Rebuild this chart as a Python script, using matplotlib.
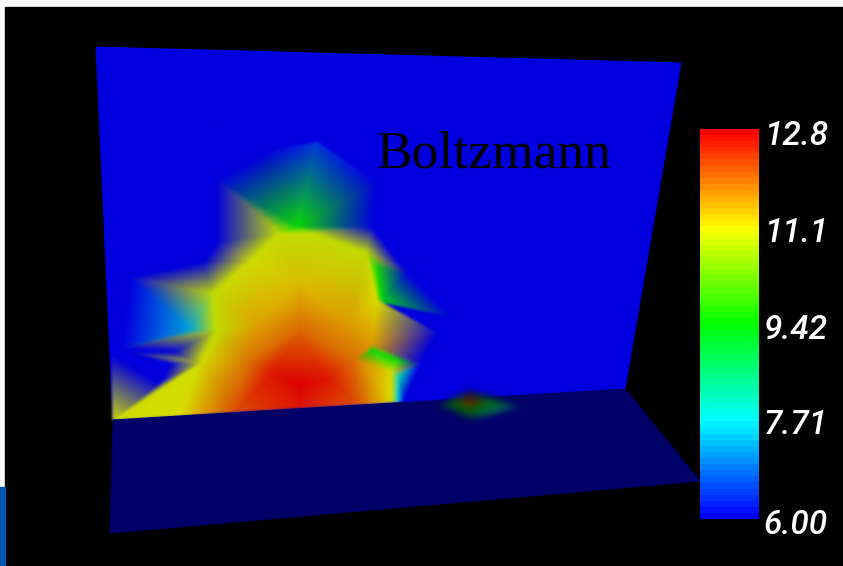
import numpy as np
import matplotlib
matplotlib.use("Agg")
import matplotlib.pyplot as plt
from matplotlib.colors import LinearSegmentedColormap
from matplotlib.patches import Rectangle

# picture is a rendered surface, so everything is kept in image pixel coordinates
vmin, vmax = 6.0, 12.8
tickLabels = ["12.8", "11.1", "9.42", "7.71", "6.00"]
tickY = [136, 233, 330, 425, 525]

wallX = [96, 681, 625, 113]
wallY = [47, 63, 389, 420]
floorX = [113, 625, 700, 110]
floorY = [420, 389, 481, 533]

# mesh nodes on the wall
nodeX = [113, 180, 235, 300, 360, 392,
         300, 272, 328, 300, 250, 355,
         200, 216, 213, 248, 279, 313, 367, 377, 373, 392,
         300, 255, 350,
         297, 217, 267, 317, 377, 372, 217, 204,
         130, 190, 122, 175, 133, 160, 112,
         382, 407, 450, 438, 420,
         372, 398, 399, 398, 404,
         376, 172]
nodeY = [420, 416, 412, 408, 404.5, 402.5,
         385, 372, 378, 330, 360, 360,
         363, 331, 293, 263, 233, 233, 253, 300, 345, 372,
         285, 325, 325,
         227, 180, 152, 142, 183, 228, 243, 262,
         278, 330, 348, 352, 353, 383, 355,
         302, 273, 316, 334, 364,
         350, 360, 376, 402, 401,
         268, 364]
nodeV = [11.0, 11.1, 12.2, 12.6, 12.1, 11.1,
         12.8, 12.6, 12.6, 12.0, 11.9, 11.9,
         11.0, 10.9, 10.9, 11.0, 10.9, 10.9, 10.9, 11.1, 11.6, 11.1,
         11.35, 11.5, 11.6,
         9.5, 6.0, 6.0, 6.4, 6.0, 6.0, 6.0, 6.0,
         6.0, 7.3, 6.0, 6.0, 6.0, 6.0, 6.0,
         9.3, 6.0, 6.0, 6.0, 6.0,
         9.3, 9.4, 8.0, 7.6, 6.0,
         9.6, 6.0]
nodeTri = [(0, 1, 12), (1, 2, 12), (2, 10, 12), (2, 7, 10), (2, 3, 7), (3, 6, 7), (3, 8, 6), (3, 4, 8),
           (4, 11, 8), (4, 5, 11), (5, 21, 11), (8, 11, 9), (6, 8, 9), (6, 7, 9), (7, 10, 9), (10, 23, 9),
           (10, 13, 23), (10, 12, 13), (13, 14, 23), (14, 15, 23), (15, 22, 23), (15, 16, 22), (16, 17, 22),
           (17, 18, 22), (18, 24, 22), (18, 19, 24), (19, 20, 24), (20, 11, 24), (11, 9, 24), (9, 22, 24), (9, 23, 22),
           # green fan at the top
           (25, 16, 17), (25, 16, 26), (25, 26, 27), (25, 27, 28), (25, 28, 29), (25, 29, 30), (25, 17, 30), (17, 18, 30),
           (16, 26, 31), (16, 31, 15), (15, 31, 32), (15, 32, 14),
           # spikes on the left
           (14, 32, 33), (14, 33, 34), (14, 34, 13), (34, 33, 35), (34, 35, 13), (13, 35, 36), (13, 36, 12),
           (12, 37, 36), (12, 37, 51), (12, 51, 38), (12, 38, 0), (0, 38, 39),
           # right side
           (18, 30, 41), (18, 19, 50), (19, 40, 50), (18, 50, 41), (50, 40, 41), (40, 41, 42), (19, 43, 20), (20, 43, 44),
           (45, 46, 21), (45, 21, 11), (20, 45, 11), (20, 45, 46), (20, 46, 44), (46, 21, 44),
           (21, 47, 44), (21, 5, 48), (21, 48, 47), (47, 48, 49), (47, 49, 44)]

# small spot on the floor
spotX = [470, 450, 492, 470, 436, 470, 524, 470, 503]
spotY = [401, 403, 402, 411, 407, 422, 406, 390, 410]
spotV = [12.3, 9.3, 9.0, 9.5, 6.0, 6.0, 6.0, 6.0, 7.8]
spotTri = [(0, 1, 3), (0, 2, 3), (1, 4, 3), (3, 4, 5), (3, 8, 5), (2, 8, 3), (8, 6, 5), (2, 6, 8),
           (0, 1, 7), (0, 2, 7), (1, 4, 7), (2, 6, 7)]


def rainbow(scale):
    colors = [(0, 0, scale), (0, scale, scale), (0, scale, 0), (scale, scale, 0), (scale, 0, 0)]
    return LinearSegmentedColormap.from_list("rainbow%s" % scale, colors, N=256)


def blurFilter(sigma):
    # the source render is soft, agg_filter gets the artist as a float RGBA array
    def apply(img, dpi):
        pad = int(3 * sigma) + 1
        kernel = np.exp(-0.5 * (np.arange(-pad, pad + 1) / sigma) ** 2)
        kernel = kernel / kernel.sum()
        out = np.pad(img, ((pad, pad), (pad, pad), (0, 0)))
        alpha = out[:, :, 3:4]
        out = np.concatenate([out[:, :, :3] * alpha, alpha], axis=2)
        for axis in (0, 1):
            out = np.apply_along_axis(lambda m: np.convolve(m, kernel, mode="same"), axis, out)
        out[:, :, :3] = out[:, :, :3] / np.maximum(out[:, :, 3:4], 1e-3)
        return np.clip(out, 0, 1), -pad, -pad
    return apply


def plotMesh(ax, x, y, v, tri, cmap, zorder, sigma=None):
    mesh = ax.tripcolor(x, y, tri, v, shading="gouraud", cmap=cmap, vmin=vmin, vmax=vmax, zorder=zorder)
    if sigma is not None:
        mesh.set_agg_filter(blurFilter(sigma))
    return mesh


fig = plt.figure(figsize=(8.43, 5.66), dpi=100, facecolor="white")
ax = fig.add_axes([0, 0, 1, 1])
ax.set_axis_off()

ax.add_patch(Rectangle((5, 7), 838, 559, color="black", zorder=0))
ax.add_patch(Rectangle((0, 487), 5, 79, color="#0055aa", zorder=0))

wallCmap = rainbow(0.87)
floorCmap = rainbow(0.41)
quad = [(0, 1, 2), (0, 2, 3)]

plotMesh(ax, wallX, wallY, [vmin] * 4, quad, wallCmap, 1)
plotMesh(ax, nodeX, nodeY, nodeV, nodeTri, wallCmap, 1.1, sigma=1.3)
plotMesh(ax, floorX, floorY, [vmin] * 4, quad, floorCmap, 1.2)
plotMesh(ax, spotX, spotY, spotV, spotTri, floorCmap, 1.3, sigma=3)

# colour bar
ax.imshow(np.linspace(vmax, vmin, 64)[:, None], extent=[700, 759, 519, 129], aspect="auto",
          cmap=rainbow(1.0), vmin=vmin, vmax=vmax, zorder=3, interpolation="nearest")
for label, y in zip(tickLabels, tickY):
    ax.text(828, y, label, color="white", fontsize=24, fontstyle="italic", family="Roboto",
            fontweight="medium", ha="right", va="center", zorder=4)

ax.text(377, 168, "Boltzmann", color="black", fontsize=38.5, family="Liberation Serif", ha="left", va="baseline", zorder=4)

ax.set_xlim(0, 843)
ax.set_ylim(566, 0)
plt.savefig("out.png", dpi=100)
plt.close()
